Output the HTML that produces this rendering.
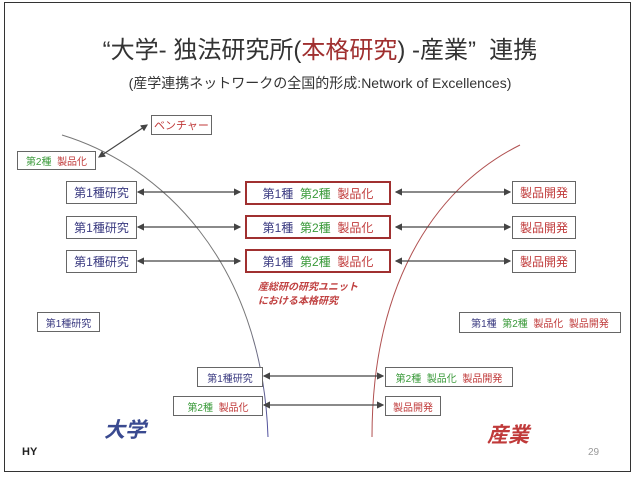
<!DOCTYPE html>
<html><head><meta charset="utf-8"><style>
body{margin:0;width:640px;height:481px;background:#fff;position:relative;overflow:hidden;font-family:"Liberation Sans","Noto Sans CJK JP",sans-serif}
.b{position:absolute;border:1.5px solid #666;background:#fff;box-sizing:border-box;font-size:11px;display:flex;align-items:center;justify-content:center;white-space:nowrap}
.r{border:2px solid #a03030}
.bl{color:#3a3a80}.g{color:#3a9a3a}.rd{color:#c03a3a}
.t{position:absolute;white-space:nowrap}
</style></head><body>
<div style="position:absolute;left:4px;top:2px;width:627px;height:470px;border:1.5px solid #333;box-sizing:border-box"></div>
<svg width="640" height="481" style="position:absolute;left:0;top:0">
<defs><marker id="a" markerWidth="6" markerHeight="6" refX="5" refY="3" orient="auto-start-reverse"><path d="M0,0L6,3L0,6z" fill="#444"/></marker>
<linearGradient id="lg" x1="0" y1="0" x2="0" y2="1"><stop offset="0" stop-color="#777"/><stop offset="0.6" stop-color="#777"/><stop offset="1" stop-color="#5050a0"/></linearGradient></defs>
<path d="M62,135 C160,165 262,260 268,437" fill="none" stroke="url(#lg)" stroke-width="1"/>
<path d="M520,145 C430,190 372,290 372,437" fill="none" stroke="#b05050" stroke-width="1"/>
<g stroke="#444" stroke-width="1.2" marker-start="url(#a)" marker-end="url(#a)">
<line x1="99" y1="157" x2="147" y2="125"/>
<line x1="138" y1="192" x2="240" y2="192"/><line x1="138" y1="227" x2="240" y2="227"/><line x1="138" y1="261" x2="240" y2="261"/>
<line x1="396" y1="192" x2="510" y2="192"/><line x1="396" y1="227" x2="510" y2="227"/><line x1="396" y1="261" x2="510" y2="261"/>
<line x1="264" y1="376" x2="383" y2="376"/><line x1="264" y1="405" x2="383" y2="405"/>
</g></svg>
<div class="t" style="left:0;width:640px;text-align:center;top:30px;font-size:24px;color:#333">“大学- 独法研究所(<span style="color:#a03030">本格研究</span>) -産業”&nbsp; 連携</div>
<div class="t" style="left:0;width:640px;text-align:center;top:73px;font-size:14px;color:#333">(産学連携ネットワークの全国的形成:Network of Excellences)</div>
<div class="b rd" style="left:151px;top:115px;width:61px;height:20px">ベンチャー</div>
<div class="b" style="left:17px;top:151px;width:79px;height:19px;font-size:10px"><span class="g">第2種</span>&nbsp;&nbsp;<span class="rd">製品化</span></div>
<div class="b bl" style="left:66px;top:181px;width:71px;height:23px;font-size:12px">第1種研究</div>
<div class="b bl" style="left:66px;top:216px;width:71px;height:23px;font-size:12px">第1種研究</div>
<div class="b bl" style="left:66px;top:250px;width:71px;height:23px;font-size:12px">第1種研究</div>
<div class="b r" style="left:245px;top:181px;width:146px;height:24px;font-size:12px"><span class="bl">第1種</span>&nbsp;&nbsp;<span class="g">第2種</span>&nbsp;&nbsp;<span class="rd">製品化</span></div>
<div class="b r" style="left:245px;top:215px;width:146px;height:24px;font-size:12px"><span class="bl">第1種</span>&nbsp;&nbsp;<span class="g">第2種</span>&nbsp;&nbsp;<span class="rd">製品化</span></div>
<div class="b r" style="left:245px;top:249px;width:146px;height:24px;font-size:12px"><span class="bl">第1種</span>&nbsp;&nbsp;<span class="g">第2種</span>&nbsp;&nbsp;<span class="rd">製品化</span></div>
<div class="b rd" style="left:512px;top:181px;width:64px;height:23px;font-size:12px">製品開発</div>
<div class="b rd" style="left:512px;top:216px;width:64px;height:23px;font-size:12px">製品開発</div>
<div class="b rd" style="left:512px;top:250px;width:64px;height:23px;font-size:12px">製品開発</div>
<div class="t rd" style="left:258px;top:281px;font-size:10px;font-style:italic;line-height:14px;font-weight:bold;color:#c04040">産総研の研究ユニット<br>における本格研究</div>
<div class="b bl" style="left:37px;top:312px;width:63px;height:20px;font-size:10px">第1種研究</div>
<div class="b" style="left:459px;top:312px;width:162px;height:21px;font-size:10px"><span class="bl">第1種</span>&nbsp;&nbsp;<span class="g">第2種</span>&nbsp;&nbsp;<span class="rd">製品化&nbsp;&nbsp;製品開発</span></div>
<div class="b bl" style="left:197px;top:367px;width:66px;height:20px;font-size:10px">第1種研究</div>
<div class="b" style="left:173px;top:396px;width:90px;height:20px;font-size:10px"><span class="g">第2種</span>&nbsp;&nbsp;<span class="rd">製品化</span></div>
<div class="b" style="left:385px;top:367px;width:128px;height:20px;font-size:10px"><span class="g">第2種&nbsp;&nbsp;製品化</span>&nbsp;&nbsp;<span class="rd">製品開発</span></div>
<div class="b rd" style="left:385px;top:396px;width:56px;height:20px;font-size:10px">製品開発</div>
<div class="t" style="left:104px;top:414px;font-size:21px;font-style:italic;font-weight:bold;color:#3a4a90">大学</div>
<div class="t" style="left:487px;top:419px;font-size:21px;font-style:italic;font-weight:bold;color:#c03a3a">産業</div>
<div class="t" style="left:22px;top:446px;font-size:11px;font-weight:bold;color:#222">HY</div>
<div class="t" style="left:588px;top:447px;font-size:10px;color:#999">29</div>
</body></html>
